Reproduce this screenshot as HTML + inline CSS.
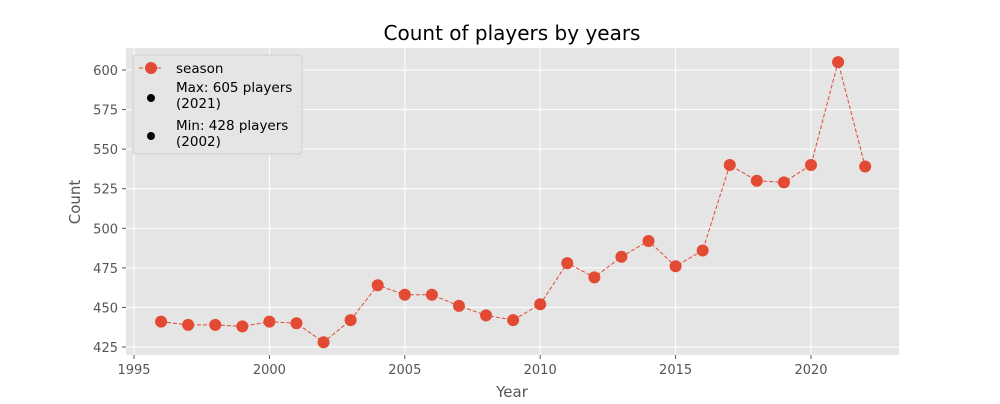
<!DOCTYPE html>
<html><head><meta charset="utf-8"><style>
body{margin:0;background:#fff;font-family:"DejaVu Sans","Liberation Sans",sans-serif;}
svg text{font-family:"DejaVu Sans","Liberation Sans",sans-serif;}
</style></head><body>
<svg id="chart" width="1000" height="400" xmlns="http://www.w3.org/2000/svg">
<rect x="126" y="48" width="773" height="307" fill="#E5E5E5"/>
<g id="grid"></g><g id="ticks"></g><g id="series"></g>
<text x="512" y="40" text-anchor="middle" font-size="20" fill="#000">Count of players by years</text>
<text x="512" y="397" text-anchor="middle" font-size="15" fill="#555">Year</text>
<text x="80" y="202" text-anchor="middle" font-size="15" fill="#555" transform="rotate(-90 80 202)">Count</text>
<g>
<rect x="133" y="55" width="169" height="99" rx="3" fill="#E5E5E5" stroke="#ccc" stroke-width="1" opacity="0.9"/>
<line x1="139" y1="68" x2="163" y2="68" stroke="#E24A33" stroke-dasharray="4,2"/>
<circle cx="151" cy="68" r="6" fill="#E24A33"/>
<text x="176" y="73" font-size="13.5" fill="#000">season</text>
<circle cx="151" cy="98" r="4" fill="#000"/>
<text x="176" y="92" font-size="13.5" fill="#000"><tspan x="176">Max: 605 players</tspan><tspan x="176" dy="16">(2021)</tspan></text>
<circle cx="151" cy="136" r="4" fill="#000"/>
<text x="176" y="130" font-size="13.5" fill="#000"><tspan x="176">Min: 428 players</tspan><tspan x="176" dy="16">(2002)</tspan></text>
</g>
</svg>
<script>
const years=[1996,1997,1998,1999,2000,2001,2002,2003,2004,2005,2006,2007,2008,2009,2010,2011,2012,2013,2014,2015,2016,2017,2018,2019,2020,2021,2022];
const counts=[441,439,439,438,441,440,428,442,464,458,458,451,445,442,452,478,469,482,492,476,486,540,530,529,540,605,539];
const xTicks=[1995,2000,2005,2010,2015,2020];
const yTicks=[425,450,475,500,525,550,575,600];
const NS="http://www.w3.org/2000/svg";
const xs=v=>134+(v-1995)*27.08;
const ys=v=>347-(v-425)*277/175;
function mk(t,a,p){const e=document.createElementNS(NS,t);for(const k in a)e.setAttribute(k,a[k]);p.appendChild(e);return e;}
const grid=document.getElementById('grid'),ticks=document.getElementById('ticks'),ser=document.getElementById('series');
xTicks.forEach(t=>{const x=xs(t);
const g=mk('line',{x1:x,x2:x,y1:48,y2:355,stroke:'#fff','stroke-width':1},grid);


mk('line',{x1:x,x2:x,y1:355,y2:359,stroke:'#555'},ticks);
const l=mk('text',{x:x,y:374,'text-anchor':'middle','font-size':13,fill:'#555'},ticks);l.textContent=t;

});
yTicks.forEach(t=>{const y=ys(t);
const g=mk('line',{x1:126,x2:899,y1:y,y2:y,stroke:'#fff','stroke-width':1},grid);


mk('line',{x1:122,x2:126,y1:y,y2:y,stroke:'#555'},ticks);
const l=mk('text',{x:118,y:y+5,'text-anchor':'end','font-size':13,fill:'#555'},ticks);l.textContent=t;

});
const pl=mk('polyline',{points:years.map((y,i)=>xs(y)+','+ys(counts[i])).join(' '),fill:'none',stroke:'#E24A33','stroke-width':1,'stroke-dasharray':'4,2'},ser);


years.forEach((y,i)=>{const c=mk('circle',{cx:xs(y),cy:ys(counts[i]),r:6,fill:'#E24A33'},ser);

});
</script>
</body></html>
